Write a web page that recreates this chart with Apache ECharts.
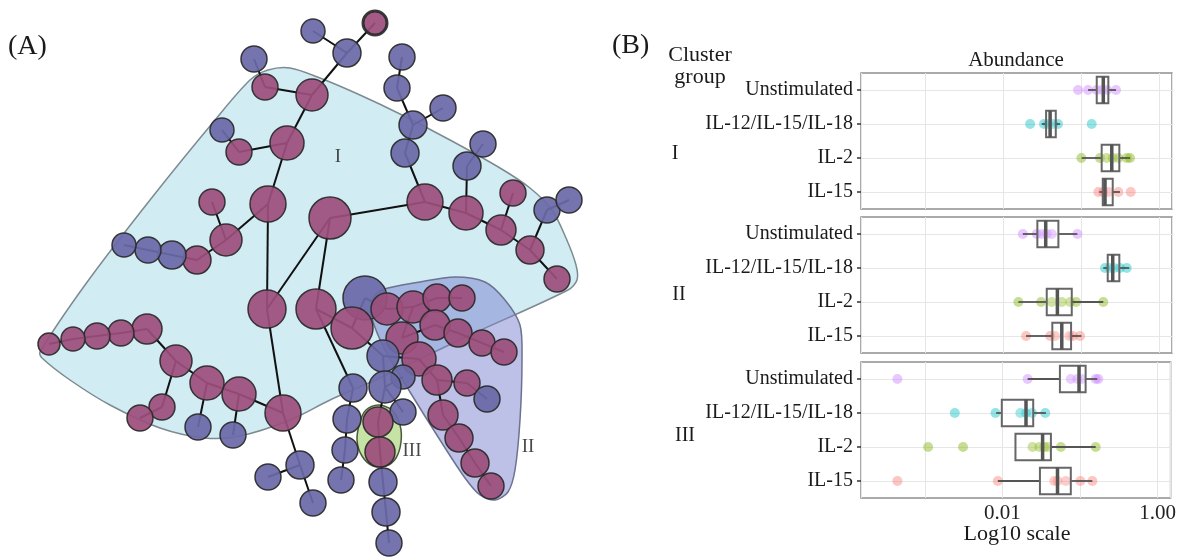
<!DOCTYPE html>
<html><head><meta charset="utf-8">
<script src="https://cdn.jsdelivr.net/npm/echarts@6/dist/echarts.min.js"></script>
<style>html,body{margin:0;padding:0;background:#fff}#c{width:1179px;height:558px}</style>
</head><body><div id="c"></div>
<script>
// ---------- Panel A: network (node layout positions, radii, kind) ----------
const nodeX = [375,347,313,312,265,254,287,239,222,268,212,226,197,172,148,124,330,267,316,283,239,207,176,147,121,97,73,49,162,140,198,233,300,268,313,353,347,345,341,425,405,413,397,402,443,466,467,483,501,513,530,547,569,557,365,352,387,413,437,462,402,435,458,482,504,383,419,403,385,437,467,487,443,459,475,491,403,378,380,383,386,389];
const nodeY = [23,53,31,95,87,59,143,152,130,204,202,240,260,255,250,245,218,309,309,413,394,383,361,329,333,336,339,344,407,418,427,435,465,477,503,388,419,450,480,202,153,125,88,57,108,213,166,144,230,193,250,210,200,279,298,328,309,307,298,298,338,325,333,343,352,356,359,377,387,380,383,399,415,438,463,486,412,422,452,482,512,543];
const nodeR = [12,14,12,16,13,13,17,13,12,18,13,16,14,14,13,12,21,19,20,18,17,17,16,15,13,13,12,11,13,13,13,13,14,13,13,14,14,13,13,18,14,14,13,13,13,17,14,13,15,13,14,13,13,13,22,21,16,16,14,13,16,15,14,13,13,16,17,12,16,15,13,13,15,14,14,13,13,15,15,14,14,13];
const nodeKind = ['m','b','b','m','m','b','m','m','b','m','m','m','m','b','b','b','m','m','m','m','m','m','m','m','m','m','m','m','m','m','b','b','b','b','b','b','b','b','b','m','b','b','b','b','b','m','b','b','m','m','m','b','b','m','b','m','m','m','m','m','m','m','m','m','m','b','m','b','b','m','m','b','m','m','m','m','b','m','m','b','b','b'];
const edges = [[0,1],[2,1],[1,3],[5,4],[4,3],[3,6],[8,7],[7,6],[6,9],[10,11],[9,11],[11,12],[12,13],[13,14],[14,15],[9,17],[16,17],[16,18],[16,39],[17,19],[19,20],[20,21],[21,22],[22,23],[23,24],[24,25],[25,26],[26,27],[22,28],[28,29],[21,30],[20,31],[19,32],[32,33],[32,34],[18,35],[35,36],[36,37],[37,38],[39,40],[40,41],[41,42],[42,43],[41,44],[39,45],[45,46],[46,47],[45,48],[48,49],[48,50],[50,51],[51,52],[50,53],[18,55],[55,54],[54,56],[56,57],[57,58],[58,59],[57,60],[60,61],[61,62],[62,63],[63,64],[55,65],[65,66],[66,69],[69,70],[70,71],[69,72],[72,73],[73,74],[74,75],[65,68],[68,67],[68,76],[68,77],[77,78],[78,79],[79,80],[80,81]];
const hullI = [[40,352],[85,285],[150,200],[215,120],[250,80],[268,70],[290,68],[320,78],[360,95],[400,114],[450,140],[500,168],[530,188],[552,210],[566,238],[576,265],[577,280],[568,290],[470,335],[380,378],[330,400],[290,420],[240,436],[205,438],[160,428],[110,405],[70,380],[42,358]];
const hullII = [[372,300],[382,290],[420,282],[455,277],[485,282],[505,300],[520,325],[522,360],[520,420],[515,470],[508,492],[495,500],[480,495],[465,478],[440,440],[410,392],[385,350],[372,318]];
const hullIII = [[378,405],[392,410],[400,425],[401,442],[396,458],[386,466],[373,466],[362,456],[357,440],[360,422],[366,410]];
const hullLabels = ['I','II','III'];
const hullLabelPos = [[338,157],[528,447],[412,451]];

// ---------- Panel B: abundance box plots ----------
const stimulations = ['Unstimulated','IL-12/IL-15/IL-18','IL-2','IL-15'];
const clusterGroups = ['I','II','III'];
const xTickValues = [0.01, 1];
const xTickLabels = ['0.01','1.00'];
// [lower whisker, Q1, median, Q3, upper whisker]
const boxI = [[0.123,0.159,0.193,0.224,0.281],[0.0313,0.0356,0.0401,0.0474,0.0538],[0.102,0.184,0.248,0.310,0.425],[0.172,0.190,0.203,0.255,0.316]];
const boxII = [[0.0179,0.0275,0.0352,0.0512,0.0897],[0.193,0.220,0.255,0.310,0.416],[0.0157,0.0363,0.0497,0.0760,0.193],[0.0197,0.0428,0.0566,0.0745,0.101]];
const boxIII = [[0.0211,0.0550,0.0970,0.118,0.167],[0.0083,0.0098,0.0201,0.0249,0.0363],[0.0147,0.0147,0.0329,0.0421,0.159],[0.00871,0.0304,0.0512,0.0760,0.144]];
const ptsI = [[0.0916,0.123,0.159,0.186,0.216,0.281],[0.0222,0.0335,0.0378,0.0438,0.0506,0.137],[0.101,0.175,0.213,0.255,0.301,0.386,0.425],[0.167,0.193,0.224,0.301,0.434]];
const ptsII = [[0.0179,0.0270,0.0313,0.0363,0.0421,0.0897],[0.203,0.235,0.265,0.316,0.386],[0.0157,0.0307,0.0421,0.0566,0.0723,0.0863,0.193],[0.0197,0.0401,0.0464,0.0708,0.0783,0.0970]];
const ptsIII = [[0.000442,0.0211,0.0760,0.0923,0.105,0.159,0.172],[0.00243,0.00813,0.0170,0.0201,0.0240,0.0356],[0.00110,0.00310,0.0244,0.0298,0.0345,0.0381,0.0566,0.159],[0.000442,0.00871,0.0464,0.0512,0.0656,0.101,0.144]];

const SERIF = 'Liberation Serif';
const stimColors = ['#C77CFF','#00BFC4','#7CAE00','#F8766D'];
const hulls = [hullI, hullII, hullIII];
const hullStyles = [
  {fill:'#d2ecf4', stroke:'#7d8a90', lineWidth:1.5},
  {fill:'rgba(118,124,205,0.48)', stroke:'#6c7290', lineWidth:1.5},
  {fill:'#c6e2a4', stroke:'#4a5a3a', lineWidth:1.5}
];

const chart = echarts.init(document.getElementById('c'), null, {renderer:'canvas'});

const graphData = nodeX.map((x,i)=>({
  value:[x,nodeY[i]],
  symbolSize: nodeR[i]*2,
  itemStyle:{
    color: nodeKind[i]==='m' ? '#9c4f7c' : '#6a69a8',
    borderColor:'#2b2b2b', borderWidth: i===0 ? 3 : 1.5, opacity:0.93
  }
}));

const boxGroups = [boxI, boxII, boxIII];
const ptGroups = [ptsI, ptsII, ptsIII];
const gridTops = [73, 217, 362];
const gridH = 136;

const grids = [{left:0, top:0, width:600, height:558, show:false}];
const xAxes = [{gridIndex:0, type:'value', min:0, max:600, show:false}];
const yAxes = [{gridIndex:0, type:'value', min:0, max:558, inverse:true, show:false}];
gridTops.forEach((t,g)=>{
  grids.push({left:861, top:t, width:311, height:gridH, show:true, borderColor:'#8f8f8f', borderWidth:1.5, backgroundColor:'#fff'});
  const last = g===2;
  xAxes.push({gridIndex:g+1, type:'log', logBase:10, min:0.00015, max:1.47,
    axisLine:{show:false}, axisTick:{show:false},
    splitLine:{show:true, lineStyle:{color:'#e6e6e6', width:1}},
    axisLabel:{show:last, fontFamily:SERIF, fontSize:21, color:'#222', margin:5, showMinLabel:false, showMaxLabel:false,
      formatter:v=>{ for(let k=0;k<xTickValues.length;k++){ if(Math.abs(Math.log10(v)-Math.log10(xTickValues[k]))<1e-6) return xTickLabels[k]; } return ''; }}
  });
  yAxes.push({gridIndex:g+1, type:'category', data:stimulations, inverse:true,
    axisLine:{show:false},
    axisTick:{show:true, alignWithLabel:true, length:4, lineStyle:{color:'#333', width:1.5}},
    splitLine:{show:true, alignWithLabel:true, lineStyle:{color:'#e6e6e6', width:1}},
    axisLabel:{fontFamily:SERIF, fontSize:20, color:'#1a1a1a', margin:8}
  });
});

const series = [];
series.push({
  type:'custom', xAxisIndex:0, yAxisIndex:0, z:1, silent:true,
  data:[0,1,2],
  renderItem:(params, api)=>{
    const k = params.dataIndex;
    const pts = hulls[k].map(p=>api.coord(p));
    return {type:'polygon', shape:{points:pts, smooth:0.3}, style:hullStyles[k]};
  }
});
series.push({
  type:'graph', coordinateSystem:'cartesian2d', xAxisIndex:0, yAxisIndex:0, z:3,
  symbol:'circle', data:graphData,
  links: edges.map(e=>({source:e[0], target:e[1]})),
  lineStyle:{color:'#111', width:2, opacity:1},
  emphasis:{disabled:true}, silent:true, label:{show:false}
});
series.push({
  type:'scatter', xAxisIndex:0, yAxisIndex:0, z:4, silent:true, symbolSize:0,
  data: hullLabelPos.map((p,i)=>({value:p, name:hullLabels[i]})),
  label:{show:true, position:'inside', formatter:p=>p.name, fontFamily:SERIF, fontSize:19, color:'#1a1a1a'}
});

boxGroups.forEach((box,g)=>{
  const pts = ptGroups[g];
  const scat = [];
  pts.forEach((arr,c)=>arr.forEach(v=>scat.push({value:[v,c], itemStyle:{color:stimColors[c]}})));
  series.push({type:'scatter', xAxisIndex:g+1, yAxisIndex:g+1, z:2, symbolSize:10, silent:true,
    itemStyle:{opacity:0.42}, data:scat});
  series.push({type:'custom', xAxisIndex:g+1, yAxisIndex:g+1, z:3, silent:true,
    data: box.map((s,c)=>[c, s[0], s[1], s[2], s[3], s[4]]),
    encode:{x:[1,2,3,4,5], y:0},
    renderItem:(params, api)=>{
      const c = api.value(0);
      const pw = api.coord([api.value(1), c]);
      const p1 = api.coord([api.value(2), c]);
      const pm = api.coord([api.value(3), c]);
      const p3 = api.coord([api.value(4), c]);
      const ph = api.coord([api.value(5), c]);
      const band = Math.abs(api.coord([api.value(3), 0])[1] - api.coord([api.value(3), 1])[1]);
      const h = band*0.39;
      const y = pm[1];
      const ws = {stroke:'#555', lineWidth:1.8};
      return {type:'group', children:[
        {type:'line', shape:{x1:pw[0], y1:y, x2:p1[0], y2:y}, style:ws},
        {type:'line', shape:{x1:p3[0], y1:y, x2:ph[0], y2:y}, style:ws},
        {type:'rect', shape:{x:p1[0], y:y-h, width:Math.max(p3[0]-p1[0],1), height:2*h}, style:{fill:'rgba(255,255,255,0.15)', stroke:'#666', lineWidth:2}},
        {type:'line', shape:{x1:pm[0], y1:y-h, x2:pm[0], y2:y+h}, style:{stroke:'#555', lineWidth:3.5}}
      ]};
    }
  });
});

const txt = (x,y,text,size,align)=>({type:'text', x, y, style:{text, fontFamily:SERIF, fontSize:size, fill:'#1a1a1a', align:align||'left', verticalAlign:'middle'}});

chart.setOption({
  animation:false,
  grid:grids, xAxis:xAxes, yAxis:yAxes, series,
  graphic:[
    txt(8,47,'(A)',28),
    txt(612,46,'(B)',28),
    txt(700,55,'Cluster',22,'center'),
    txt(700,77,'group',22,'center'),
    txt(675,154,clusterGroups[0],20,'center'),
    txt(679,295,clusterGroups[1],20,'center'),
    txt(685,436,clusterGroups[2],20,'center'),
    txt(1016,60,'Abundance',21,'center'),
    txt(1017,534,'Log10 scale',22,'center')
  ]
});
</script></body></html>
